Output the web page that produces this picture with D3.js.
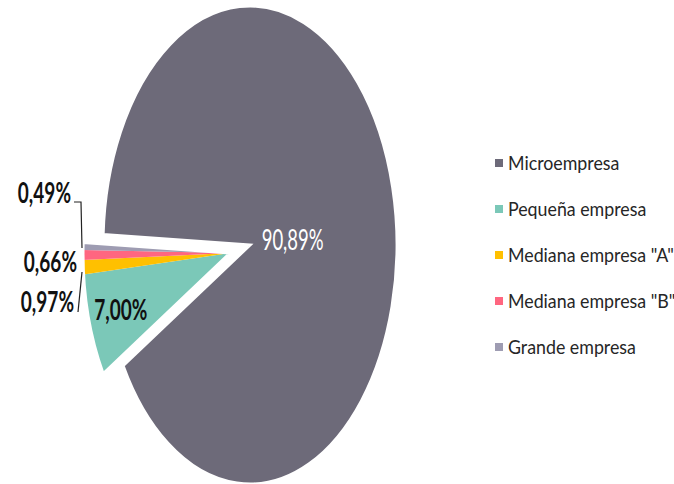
<!DOCTYPE html>
<html><head><meta charset="utf-8">
<script src="https://cdn.jsdelivr.net/npm/d3@7"></script>
<style>body{margin:0;background:#fff}svg{display:block}</style>
</head><body>
<svg id="c" width="674" height="484"></svg>
<script>
const categories = ["Microempresa","Pequeña empresa","Mediana empresa \"A\"","Mediana empresa \"B\"","Grande empresa"];
const values = [90.89, 7.00, 0.97, 0.66, 0.49];
const labels = ["90,89%","7,00%","0,97%","0,66%","0,49%"];
const colors = ["#6d6a79","#7bc8b8","#ffc000","#ff6680","#9e9cb2"];

const W = 674, H = 484;
const cx = 250, cy = 245, rx = 147, ry = 239;
const startDeg = -87.5;
const svg = d3.select("#c");

const pie = d3.pie().sort(null).value(d => d)
  .startAngle(startDeg * Math.PI/180).endAngle((startDeg+360) * Math.PI/180);
const arcs = pie(values);
const arc = d3.arc().innerRadius(0).outerRadius(ry);

const small = arcs.slice(1);
const gStart = small[0].startAngle, gEnd = small[small.length-1].endAngle;
const gMid = (gStart + gEnd) / 2;
const explode = 0.14 * ry;
const ex = Math.sin(gMid) * explode, ey = -Math.cos(gMid) * explode;

const sx = rx / ry;
const root = svg.append("g").attr("transform", `translate(${cx},${cy}) scale(${sx},1)`);

root.append("path").datum(arcs[0]).attr("d", arc).attr("fill", colors[0])
  .attr("stroke", "#fff").attr("stroke-width", 3).attr("vector-effect","non-scaling-stroke")
  .attr("stroke-linejoin","miter");

const grp = root.append("g").attr("transform", `translate(${ex},${ey})`);
grp.selectAll("path").data(small).join("path")
  .attr("d", arc).attr("fill", (d,i) => colors[i+1]);
grp.append("path").datum({startAngle:gStart,endAngle:gEnd}).attr("d", arc)
  .attr("fill","none").attr("stroke","#fff").attr("stroke-width",3)
  .attr("vector-effect","non-scaling-stroke");

function txt(x, y, s, opt) {
  return svg.append("text")
    .attr("transform", `translate(${x},${y}) scale(${opt.sx},1)`)
    .attr("text-anchor", opt.anchor || "middle")
    .attr("font-family", "Lato, 'Open Sans', sans-serif")
    .attr("font-size", opt.size).attr("font-weight", opt.weight || 400)
    .attr("fill", opt.fill || "#000").text(s);
}

txt(cx + 0.29*rx, cy + 5, labels[0], {sx:0.66, size:28, fill:"#fff", weight:400});
{
  const a = (arcs[1].startAngle + arcs[1].endAngle)/2;
  const px = cx + sx*(ex + Math.sin(a)*0.78*ry);
  const py = cy + ey - Math.cos(a)*0.78*ry;
  txt(px, py + 10, labels[1], {sx:0.68, size:28, fill:"#111", weight:700});
}
const outY = {2:312, 3:272, 4:203};
const outX = {2:74, 3:77, 4:71};
[2,3,4].forEach(i => txt(outX[i], outY[i], labels[i], {sx:0.68, size:28, weight:700, anchor:"end", fill:"#111"}));

const line = d3.line();
svg.append("path").attr("d", line([[74,202],[81,202],[82,248]]))
  .attr("fill","none").attr("stroke","#222").attr("stroke-width",1.2);
svg.append("path").attr("d", line([[78,312],[82,272]]))
  .attr("fill","none").attr("stroke","#222").attr("stroke-width",1.2);

const leg = svg.append("g").attr("transform","translate(495,163)");
const li = leg.selectAll("g").data(categories).join("g")
  .attr("transform",(d,i)=>`translate(0,${i*46})`);
li.append("rect").attr("x",0).attr("y",-4).attr("width",8).attr("height",8)
  .attr("fill",(d,i)=>colors[i]);
li.append("text").attr("transform","translate(13,7) scale(0.89,1)")
  .attr("font-family","Lato, 'Open Sans', sans-serif").attr("font-size",20)
  .attr("fill","#262626").text(d=>d);
</script>
</body></html>
